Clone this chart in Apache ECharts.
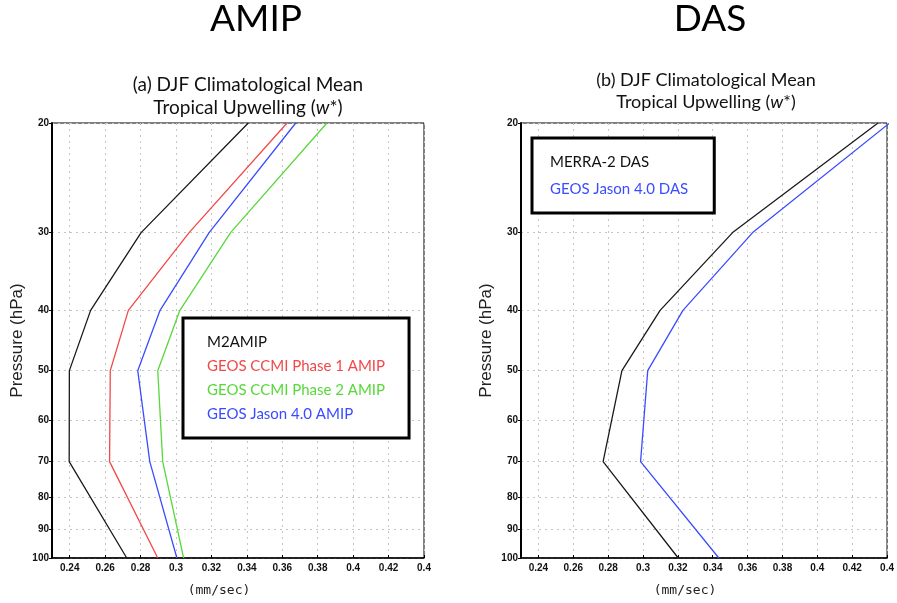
<!DOCTYPE html>
<html><head><meta charset="utf-8">
<script src="https://cdn.jsdelivr.net/npm/echarts@6/dist/echarts.min.js"></script>
<style>html,body{margin:0;padding:0;background:#fff}#c{width:897px;height:603px}</style>
</head><body><div id="c"></div>
<script>
// Pressure levels (hPa) at which the profiles are given
const pressureLevels = [20, 30, 40, 50, 70, 100];
// Tick values
const pressureTicks = [20, 30, 40, 50, 60, 70, 80, 90, 100];
const wTicks = [0.24, 0.26, 0.28, 0.30, 0.32, 0.34, 0.36, 0.38, 0.40, 0.42, 0.44];
// Upwelling w* (mm/sec), panel (a) AMIP
const m2amip    = [0.3408, 0.2803, 0.2518, 0.2398, 0.2397, 0.2722];
const ccmi1Amip = [0.3627, 0.3074, 0.2731, 0.2629, 0.2625, 0.2897];
const ccmi2Amip = [0.3852, 0.3308, 0.3022, 0.2897, 0.2925, 0.3043];
const jasonAmip = [0.3676, 0.3187, 0.2910, 0.2784, 0.2852, 0.3005];
// panel (b) DAS
const merra2Das = [0.4348, 0.3514, 0.3098, 0.2879, 0.2771, 0.3202];
const jasonDas  = [0.4415, 0.3629, 0.3229, 0.3027, 0.2986, 0.3435];

const seriesNamesA = ['M2AMIP', 'GEOS CCMI Phase 1 AMIP', 'GEOS CCMI Phase 2 AMIP', 'GEOS Jason 4.0 AMIP'];
const seriesNamesB = ['MERRA-2 DAS', 'GEOS Jason 4.0 DAS'];

const C_BLACK = '#1a1a1a', C_RED = '#f24848', C_GREEN = '#58d83a', C_BLUE = '#3a4cff';

function pairs(vals) { return vals.map((v, i) => [v, pressureLevels[i]]); }

const tickFont = { fontFamily: 'Liberation Sans', fontWeight: 'bold', fontSize: 10, color: '#111' };

function makeX(gridIndex) {
  return {
    type: 'value', gridIndex, min: 0.23, max: 0.44,
    axisLine: { show: true, lineStyle: { color: '#000', width: 1.5 } },
    axisTick: { show: true, customValues: wTicks, length: 3, inside: true, lineStyle: { color: '#000' } },
    axisLabel: {
      customValues: wTicks, margin: 5, ...tickFont,
      formatter: v => (Math.abs(v - 0.44) < 1e-9 ? '0.4' : String(+v.toFixed(2))),
    },
    splitLine: { show: true, lineStyle: { color: '#c4c4c4', type: [2, 4], width: 1 } },
    name: '(mm/sec)', nameLocation: 'middle', nameGap: 26,
    nameTextStyle: { fontFamily: 'DejaVu Sans Mono', fontSize: 13, color: '#222', padding: [0, 38, 0, 0] }
  };
}
function makeY(gridIndex) {
  return {
    type: 'log', logBase: 10, gridIndex, min: 20, max: 100, inverse: true,
    axisLine: { show: true, lineStyle: { color: '#000', width: 2 } },
    axisTick: { show: true, customValues: pressureTicks, length: 3, lineStyle: { color: '#000' } },
    axisLabel: { customValues: pressureTicks, margin: 3, ...tickFont },
    splitLine: { show: true, lineStyle: { color: '#c4c4c4', type: [2, 4], width: 1 } },
    name: 'Pressure (hPa)', nameLocation: 'middle', nameGap: 26, nameRotate: 90,
    nameTextStyle: { fontFamily: 'Liberation Sans', fontSize: 17, color: '#222' }
  };
}
function line(name, vals, color, idx) {
  return {
    type: 'line', name, data: pairs(vals), xAxisIndex: idx, yAxisIndex: idx,
    showSymbol: false, symbol: 'none', clip: true, silent: true,
    lineStyle: { color, width: 1.3 }, itemStyle: { color }
  };
}

const legendCommon = {
  orient: 'vertical', selectedMode: false, itemWidth: 0, itemHeight: 0, icon: 'rect',
  backgroundColor: '#fff', borderColor: '#000', borderWidth: 3, borderRadius: 0,
  textStyle: { fontFamily: 'Lato', fontSize: 15, lineHeight: 16 }
};

const chart = echarts.init(document.getElementById('c'), null, { renderer: 'canvas' });
chart.setOption({
  animation: false,
  backgroundColor: '#fff',
  graphic: [
    { type: 'text', x: 256, y: 19, style: { text: 'AMIP', font: '37px Lato', fill: '#000', align: 'center', verticalAlign: 'middle' } },
    { type: 'text', x: 710, y: 19, style: { text: 'DAS', font: '37px Lato', fill: '#000', align: 'center', verticalAlign: 'middle' } },
    { type: 'text', x: 248, y: 96, style: {
        text: '(a) DJF Climatological Mean\nTropical Upwelling ({i|w}*)', fontFamily: 'Lato', fontSize: 19, lineHeight: 23,
        fill: '#111', align: 'center', verticalAlign: 'middle', rich: { i: { fontStyle: 'italic', fontFamily: 'Lato', fontSize: 19 } } } },
    { type: 'text', x: 706, y: 91, style: {
        text: '(b) DJF Climatological Mean\nTropical Upwelling ({i|w}*)', fontFamily: 'Lato', fontSize: 18, lineHeight: 22,
        fill: '#111', align: 'center', verticalAlign: 'middle', rich: { i: { fontStyle: 'italic', fontFamily: 'Lato', fontSize: 18 } } } }
  ],
  grid: [
    { left: 52, top: 123, width: 372, height: 435, show: true, borderColor: '#000', borderWidth: 1 },
    { left: 521, top: 123, width: 374, height: 435, show: true, borderColor: '#000', borderWidth: 1 }
  ],
  xAxis: [makeX(0), makeX(1)],
  yAxis: [makeY(0), makeY(1)],
  legend: [
    { ...legendCommon, left: 183, top: 318, itemGap: 8, padding: [16, 24, 16, 19],
      data: [
        { name: seriesNamesA[0], textStyle: { color: '#111' } },
        { name: seriesNamesA[1], textStyle: { color: C_RED } },
        { name: seriesNamesA[2], textStyle: { color: C_GREEN } },
        { name: seriesNamesA[3], textStyle: { color: C_BLUE } }
      ] },
    { ...legendCommon, left: 532, top: 138, itemGap: 11, padding: [16, 26, 16, 13],
      data: [
        { name: seriesNamesB[0], textStyle: { color: '#111' } },
        { name: seriesNamesB[1], textStyle: { color: C_BLUE } }
      ] }
  ],
  series: [
    line(seriesNamesA[0], m2amip, C_BLACK, 0),
    line(seriesNamesA[1], ccmi1Amip, C_RED, 0),
    line(seriesNamesA[2], ccmi2Amip, C_GREEN, 0),
    line(seriesNamesA[3], jasonAmip, C_BLUE, 0),
    line(seriesNamesB[0], merra2Das, C_BLACK, 1),
    line(seriesNamesB[1], jasonDas, C_BLUE, 1)
  ]
});
</script></body></html>
